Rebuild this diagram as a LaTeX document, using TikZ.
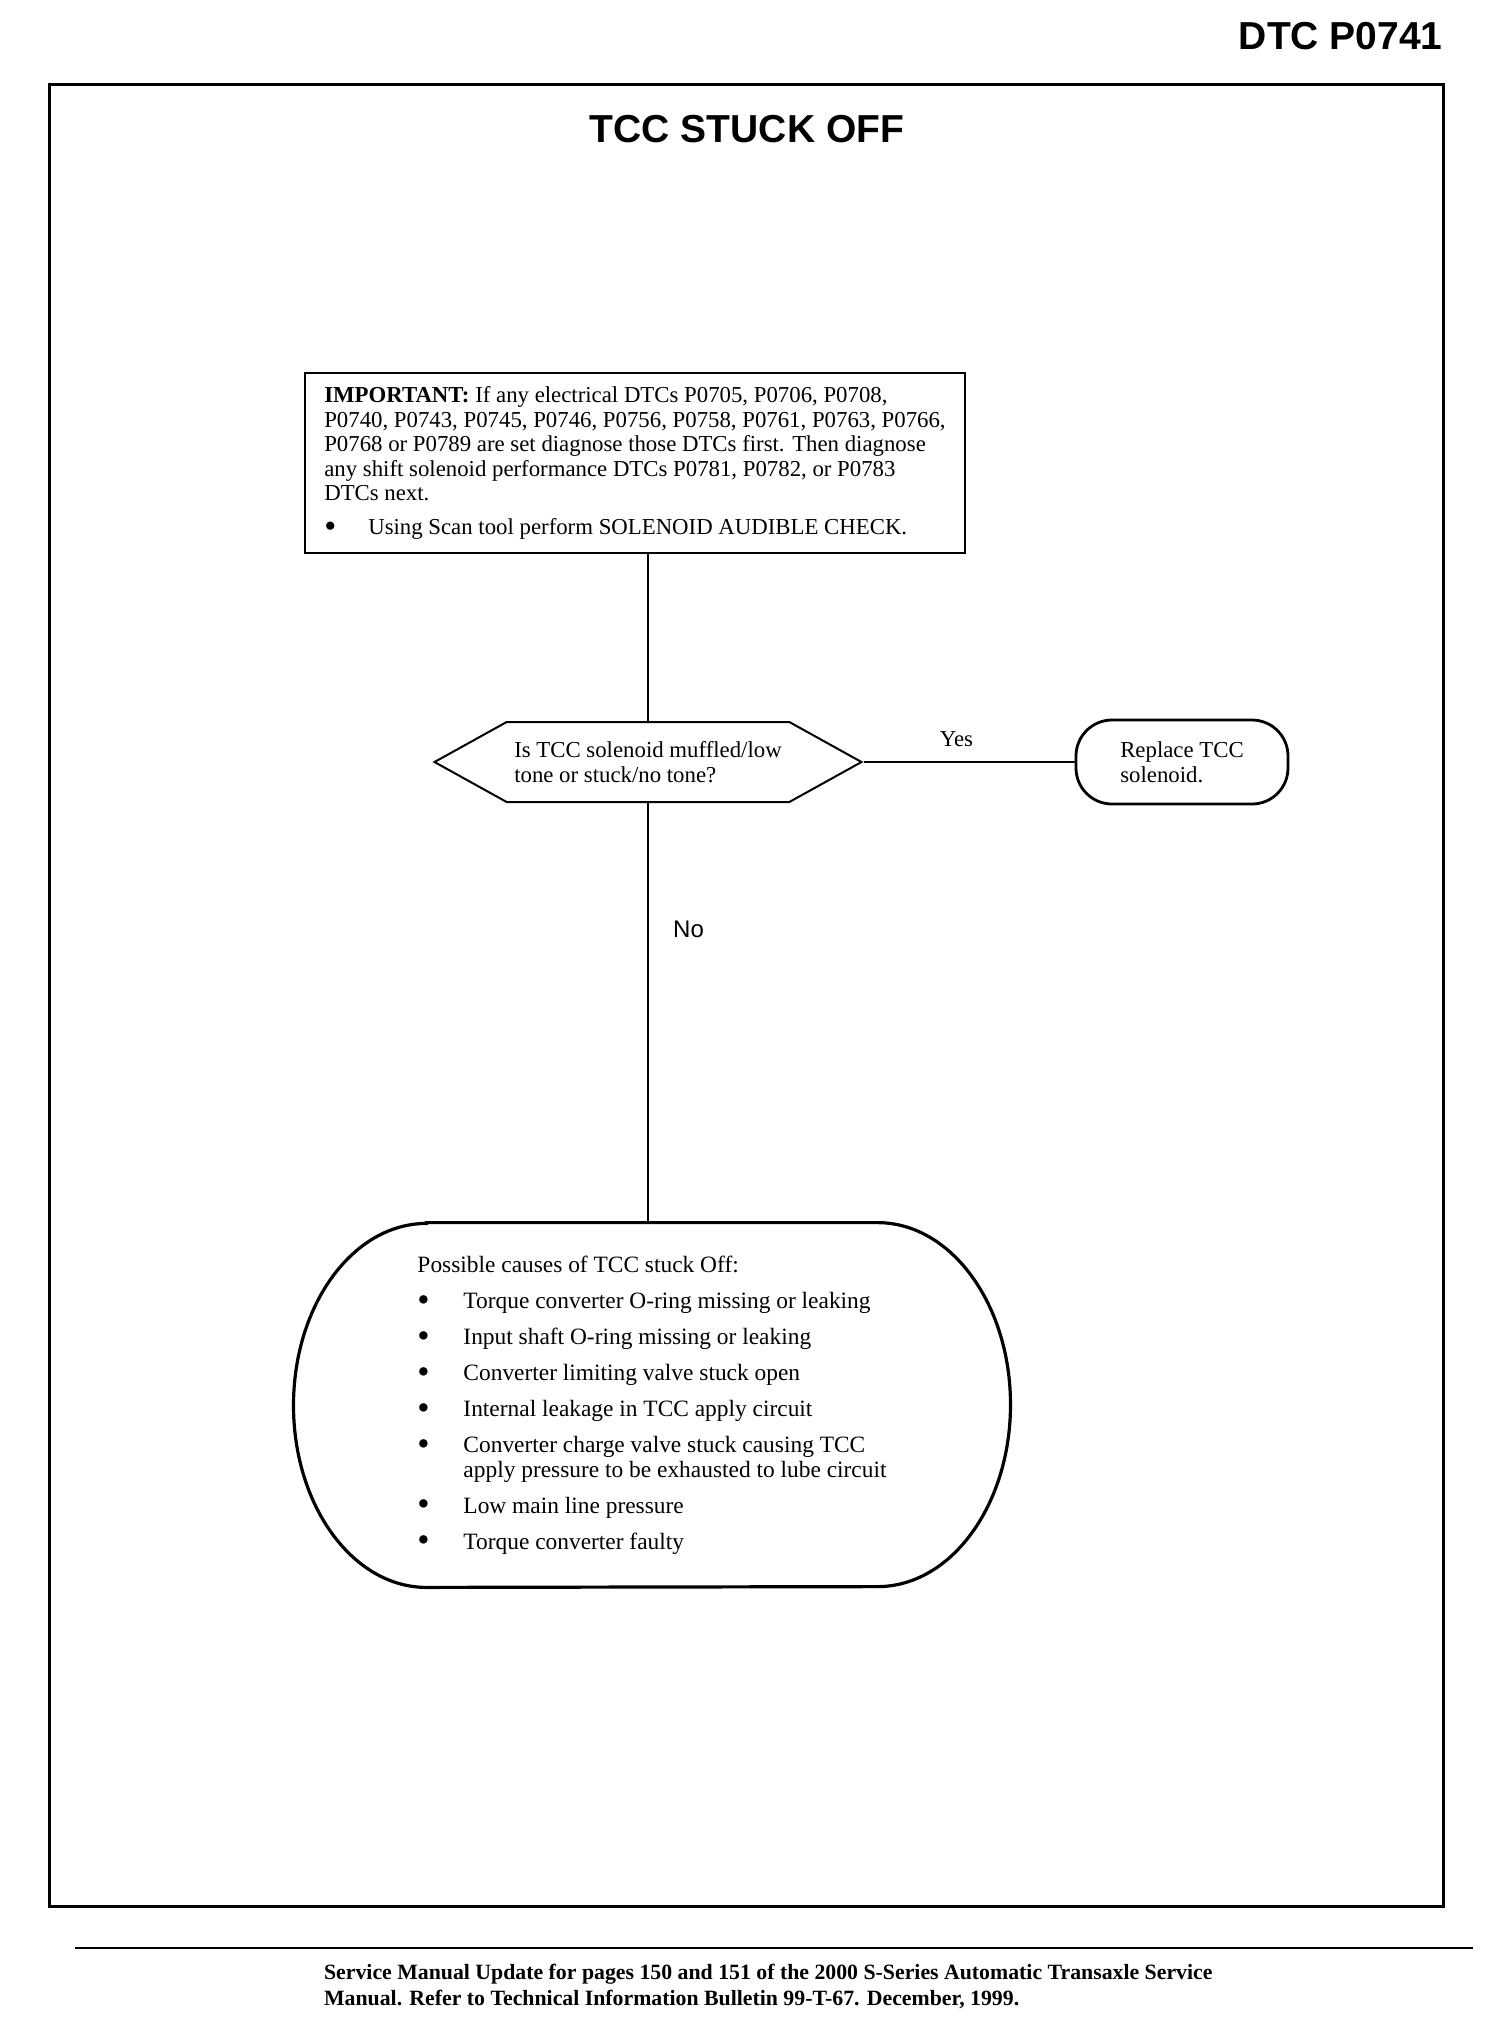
\documentclass[tikz,border=0pt]{standalone}
\usepackage{fontspec}
\setmainfont{Liberation Serif}
\setsansfont{Liberation Sans}
\usepackage{tikz}
\usetikzlibrary{shapes.symbols, positioning}
\tikzstyle{block}   = [rectangle, draw=black, line width=1pt, align=left,
                       font=\fontsize{11.4}{12.3}\selectfont]
\tikzstyle{ibox}    = [block, minimum width=330pt, minimum height=90pt]
\tikzstyle{qbox}    = [block, signal, signal to=west and east,
                       signal pointer angle=58, minimum width=213.5pt,
                       minimum height=40pt, inner sep=1pt]
\tikzstyle{rbox}    = [block, rounded corners=18pt, line width=1.4pt,
                       minimum width=106pt, minimum height=42pt]
\tikzstyle{cbox}    = [align=left, font=\fontsize{11.7}{12.3}\selectfont,
                       minimum width=358.5pt, minimum height=182pt, inner sep=0pt]
\tikzstyle{stadium} = [line width=1.6pt]
\tikzstyle{line}    = [line width=1.2pt]
\tikzstyle{head}    = [inner sep=0pt, font=\sffamily\bfseries\fontsize{19.5}{20}\selectfont]
\newcommand{\bigbul}{\raisebox{-1.3pt}{\scalebox{1.5}{\textbullet}}}
\newcommand{\causebul}{\makebox[23pt][l]{\bigbul}}

\begin{document}
\begin{tikzpicture}[x=0.5pt, y=-0.5pt, every node/.style={align=center}]
  \useasboundingbox (0,0) rectangle (1504,2026);

  % Page
  \node[head, anchor=east] (dtc) at (1443,36) {DTC P0741};
  \draw[line width=1.5pt] (49,84) rectangle (1443,1906);
  \node[head] (title) at (747,129) {TCC STUCK OFF};

  % Steps
  \node[ibox] (imp) at (635,463) {\textbf{IMPORTANT:} If any electrical DTCs P0705, P0706, P0708,\\
    P0740, P0743, P0745, P0746, P0756, P0758, P0761, P0763, P0766,\\
    P0768 or P0789 are set diagnose those DTCs first. Then diagnose\\
    any shift solenoid performance DTCs P0781, P0782, or P0783\\
    DTCs next.\\[4.5pt]
    \makebox[22pt][l]{\bigbul}Using Scan tool perform SOLENOID AUDIBLE CHECK.};
  \node[qbox] (hex) at (648,762) {Is TCC solenoid muffled/low\\ tone or stuck/no tone?};
  \node[rbox] (rep) at (1182,762) {Replace TCC\\ solenoid.};
  \node[cbox] (causes) at (652,1405) {Possible causes of TCC stuck Off:\\[5.7pt]
    \causebul Torque converter O-ring missing or leaking\\[5.7pt]
    \causebul Input shaft O-ring missing or leaking\\[5.7pt]
    \causebul Converter limiting valve stuck open\\[5.7pt]
    \causebul Internal leakage in TCC apply circuit\\[5.7pt]
    \causebul Converter charge valve stuck causing TCC\\
    \hspace*{23pt}apply pressure to be exhausted to lube circuit\\[5.7pt]
    \causebul Low main line pressure\\[5.7pt]
    \causebul Torque converter faulty};
  \draw[stadium] ([xshift=-112.75pt]causes.north) -- ([xshift=112.75pt]causes.north)
    arc[start angle=90, end angle=-90, x radius=66.5pt, y radius=91pt]
    -- ([xshift=-112.75pt]causes.south)
    arc[start angle=270, end angle=90, x radius=66.5pt, y radius=91pt] -- cycle;

  % Flow
  \draw[line] (imp.south -| hex.north) -- (hex.north);
  \draw[line] (hex.east) -- node[pos=0.44, above=7pt, inner sep=0pt,
    font=\fontsize{11.4}{12.3}\selectfont]{Yes} (rep.west);
  \draw[line] (hex.south) -- node[pos=0.3, right=12pt, inner sep=0pt,
    font=\sffamily\fontsize{12}{12}\selectfont]{No} (hex.south |- causes.north);

  % Footer
  \draw[line width=1.3pt] (75,1948) -- (1473,1948);
  \node[anchor=west, align=left, font=\bfseries\fontsize{10.9}{13}\selectfont] (foot) at (317,1986)
    {Service Manual Update for pages 150 and 151 of the 2000 S-Series Automatic Transaxle Service\\
     Manual. Refer to Technical Information Bulletin 99-T-67. December, 1999.};
\end{tikzpicture}
\end{document}
